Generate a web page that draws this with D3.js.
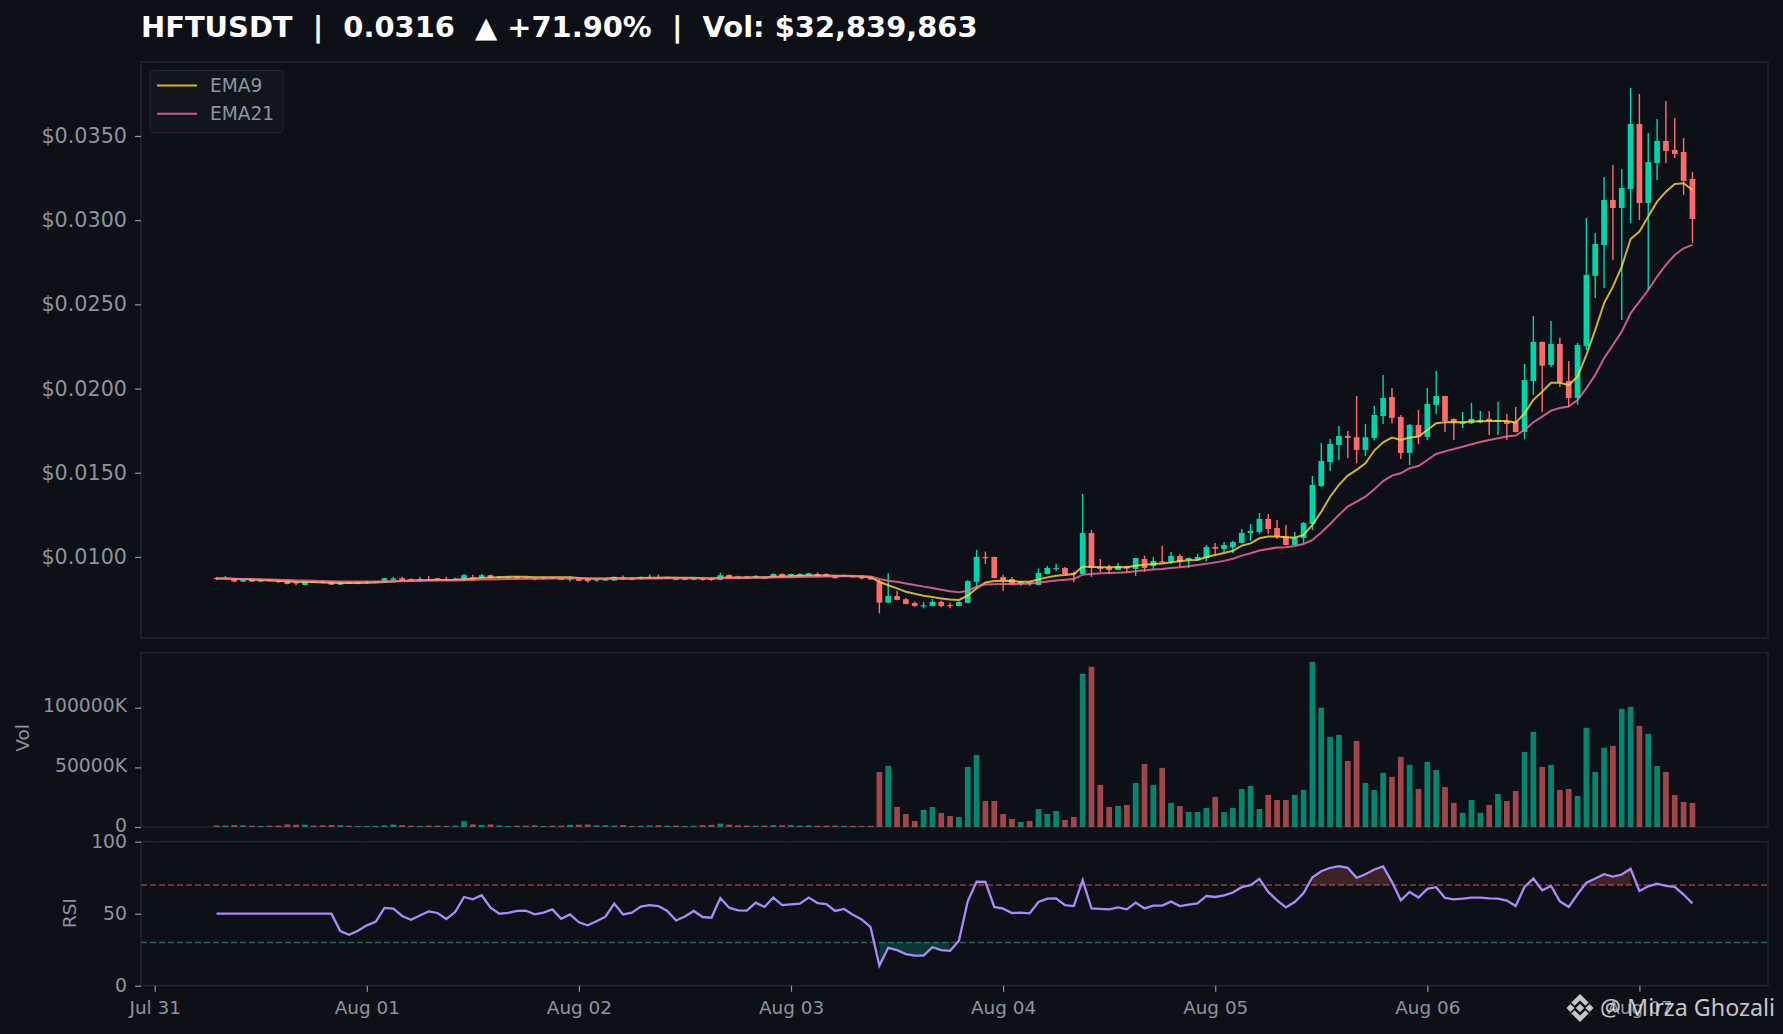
<!DOCTYPE html>
<html>
<head>
<meta charset="utf-8">
<script src="https://cdn.jsdelivr.net/npm/d3@7"></script>
<style>
  html, body { margin: 0; padding: 0; background: #0d1117; overflow: hidden; }
  text { font-family: "DejaVu Sans", sans-serif; }
</style>
</head>
<body>
<div id="chart"></div>
<script>
// hourly candles, first one at Jul 31 07:00
const opens = [
  .00876,.00872,.00874,.00854,.00870,.00854,.00864,.00858,.00858,.00850,
  .00834,.00858,.00856,.00852,.00836,.00852,.00842,.00848,.00852,.00858,
  .00864,.00874,.00868,.00864,.00868,.00874,.00870,.00868,.00870,.00880,
  .00876,.00892,.00878,.00876,.00880,.00878,.00874,.00872,.00878,.00874,
  .00868,.00874,.00874,.00860,.00860,.00860,.00880,.00874,.00868,.00874,
  .00880,.00874,.00878,.00864,.00864,.00874,.00874,.00864,.00894,.00884,
  .00884,.00876,.00880,.00884,.00899,.00888,.00884,.00888,.00899,.00899,
  .00888,.00884,.00889,.00889,.00883,.00853,.00729,.00768,.00749,.00727,
  .00709,.00709,.00733,.00715,.00709,.00727,.00853,.01000,.01000,.00881,
  .00869,.00840,.00851,.00834,.00899,.00931,.00935,.00905,.00899,.01142,
  .00939,.00939,.00923,.00944,.00929,.00988,.00946,.00974,.00970,.01006,
  .00982,.00982,.00994,.01059,.01047,.01057,.01083,.01141,.01149,.01226,
  .01172,.01125,.01071,.01113,.01196,.01422,.01564,.01665,.01719,.01711,
  .01636,.01707,.01837,.01950,.01831,.01618,.01784,.01713,.01903,.01956,
  .01820,.01790,.01794,.01800,.01820,.01806,.01806,.01802,.01742,.02045,
  .02277,.02140,.02265,.02045,.01944,.02253,.02669,.02853,.03120,.03072,
  .03185,.03571,.03102,.03339,.03470,.03417,.03405,.03245
];
const highs = [
  .00880,.00888,.00876,.00870,.00872,.00866,.00868,.00864,.00862,.00856,
  .00856,.00860,.00862,.00854,.00854,.00854,.00854,.00856,.00858,.00876,
  .00882,.00882,.00872,.00882,.00888,.00876,.00882,.00876,.00899,.00894,
  .00899,.00896,.00888,.00884,.00884,.00882,.00878,.00880,.00880,.00876,
  .00884,.00876,.00876,.00872,.00874,.00884,.00890,.00876,.00884,.00896,
  .00896,.00882,.00880,.00876,.00876,.00880,.00880,.00907,.00896,.00888,
  .00888,.00892,.00884,.00903,.00903,.00901,.00903,.00907,.00907,.00903,
  .00890,.00896,.00893,.00891,.00885,.00863,.00903,.00800,.00757,.00735,
  .00733,.00751,.00741,.00729,.00737,.00863,.01043,.01032,.01002,.00895,
  .00881,.00857,.00855,.00931,.00948,.00960,.00940,.00913,.01374,.01160,
  .00988,.00954,.00964,.00948,.00996,.01008,.01000,.01067,.01030,.01018,
  .00996,.01018,.01071,.01083,.01089,.01095,.01166,.01196,.01261,.01255,
  .01220,.01190,.01149,.01208,.01481,.01677,.01701,.01778,.01748,.01956,
  .01790,.01897,.02081,.02004,.01843,.01790,.01873,.02004,.02105,.01958,
  .01822,.01861,.01915,.01867,.01867,.01921,.01849,.01891,.02146,.02431,
  .02279,.02401,.02301,.02164,.02271,.03013,.02924,.03256,.03328,.03304,
  .03785,.03749,.03518,.03601,.03708,.03607,.03488,.03286
];
const lows = [
  .00862,.00870,.00850,.00850,.00852,.00850,.00854,.00846,.00838,.00832,
  .00832,.00846,.00844,.00834,.00834,.00840,.00838,.00840,.00848,.00856,
  .00860,.00858,.00856,.00852,.00858,.00858,.00860,.00864,.00866,.00868,
  .00870,.00870,.00872,.00872,.00870,.00870,.00860,.00868,.00868,.00862,
  .00856,.00856,.00848,.00852,.00858,.00858,.00864,.00862,.00866,.00870,
  .00870,.00870,.00862,.00862,.00862,.00858,.00858,.00862,.00874,.00868,
  .00870,.00874,.00868,.00880,.00880,.00886,.00882,.00886,.00884,.00884,
  .00872,.00882,.00877,.00867,.00865,.00665,.00725,.00743,.00719,.00705,
  .00695,.00707,.00701,.00695,.00707,.00725,.00820,.00958,.00873,.00798,
  .00832,.00828,.00828,.00832,.00897,.00917,.00897,.00851,.00897,.00881,
  .00911,.00899,.00921,.00905,.00887,.00911,.00929,.00968,.00958,.00940,
  .00935,.00980,.00976,.01018,.01030,.01024,.01081,.01095,.01137,.01137,
  .01107,.01069,.01069,.01081,.01160,.01416,.01511,.01576,.01588,.01558,
  .01600,.01691,.01790,.01794,.01582,.01546,.01671,.01695,.01849,.01742,
  .01695,.01766,.01790,.01794,.01725,.01725,.01695,.01740,.01701,.01962,
  .01861,.02128,.02010,.01891,.01903,.02229,.02538,.02597,.02764,.02407,
  .02983,.03001,.02585,.03239,.03339,.03369,.03150,.02865
];
const closes = [
  .00870,.00876,.00854,.00868,.00854,.00864,.00856,.00854,.00840,.00846,
  .00854,.00848,.00850,.00836,.00852,.00842,.00852,.00852,.00856,.00874,
  .00872,.00862,.00864,.00868,.00864,.00862,.00864,.00872,.00892,.00872,
  .00892,.00876,.00884,.00880,.00874,.00874,.00870,.00876,.00872,.00864,
  .00874,.00858,.00856,.00868,.00870,.00882,.00868,.00864,.00882,.00878,
  .00874,.00878,.00864,.00874,.00874,.00864,.00864,.00892,.00876,.00870,
  .00872,.00888,.00872,.00899,.00884,.00899,.00899,.00903,.00888,.00888,
  .00874,.00892,.00879,.00873,.00867,.00729,.00768,.00745,.00721,.00709,
  .00713,.00733,.00709,.00711,.00733,.00857,.01000,.00996,.00875,.00863,
  .00838,.00853,.00838,.00905,.00935,.00935,.00899,.00899,.01142,.00935,
  .00929,.00923,.00946,.00931,.00994,.00935,.00976,.00970,.01006,.00970,
  .00994,.01000,.01059,.01049,.01071,.01089,.01143,.01155,.01226,.01166,
  .01121,.01071,.01113,.01202,.01428,.01570,.01671,.01719,.01707,.01636,
  .01711,.01843,.01944,.01826,.01618,.01784,.01713,.01909,.01956,.01808,
  .01800,.01802,.01820,.01814,.01806,.01814,.01790,.01742,.02051,.02277,
  .02136,.02265,.02039,.01944,.02259,.02675,.02859,.03120,.03072,.03191,
  .03571,.03102,.03345,.03470,.03411,.03393,.03233,.03007
];
const ema9 = [
  .00872,.00873,.00869,.00869,.00866,.00864,.00862,.00859,.00856,.00853,
  .00852,.00851,.00849,.00847,.00846,.00846,.00846,.00847,.00849,.00852,
  .00855,.00858,.00860,.00862,.00863,.00864,.00864,.00865,.00868,.00871,
  .00876,.00878,.00880,.00882,.00882,.00882,.00880,.00880,.00880,.00879,
  .00880,.00876,.00872,.00872,.00873,.00875,.00873,.00874,.00875,.00877,
  .00877,.00878,.00876,.00876,.00876,.00874,.00873,.00877,.00878,.00878,
  .00878,.00880,.00880,.00883,.00884,.00886,.00888,.00890,.00890,.00890,
  .00888,.00889,.00887,.00884,.00880,.00853,.00832,.00814,.00794,.00782,
  .00770,.00762,.00754,.00747,.00745,.00770,.00814,.00849,.00857,.00859,
  .00857,.00853,.00853,.00867,.00879,.00889,.00893,.00899,.00942,.00942,
  .00939,.00939,.00941,.00939,.00948,.00954,.00958,.00962,.00968,.00976,
  .00980,.00982,.01000,.01012,.01024,.01037,.01067,.01081,.01111,.01121,
  .01121,.01117,.01115,.01131,.01190,.01269,.01358,.01428,.01483,.01517,
  .01556,.01632,.01681,.01709,.01695,.01709,.01715,.01754,.01794,.01800,
  .01802,.01800,.01804,.01806,.01808,.01808,.01808,.01798,.01853,.01932,
  .01982,.02035,.02035,.02021,.02071,.02200,.02348,.02506,.02605,.02724,
  .02888,.02932,.03021,.03110,.03169,.03215,.03219,.03179
];
const ema21 = [
  .00872,.00872,.00871,.00870,.00869,.00868,.00866,.00865,.00863,.00861,
  .00860,.00859,.00858,.00856,.00855,.00854,.00854,.00854,.00854,.00855,
  .00856,.00857,.00858,.00859,.00859,.00860,.00861,.00861,.00862,.00864,
  .00866,.00867,.00868,.00869,.00870,.00871,.00871,.00871,.00872,.00872,
  .00872,.00872,.00871,.00871,.00871,.00872,.00871,.00872,.00872,.00873,
  .00873,.00874,.00874,.00874,.00874,.00874,.00873,.00875,.00875,.00875,
  .00876,.00877,.00877,.00878,.00879,.00880,.00881,.00882,.00883,.00884,
  .00884,.00885,.00885,.00885,.00884,.00869,.00859,.00853,.00843,.00834,
  .00824,.00816,.00806,.00796,.00790,.00800,.00824,.00836,.00838,.00840,
  .00840,.00840,.00843,.00847,.00855,.00861,.00865,.00869,.00895,.00899,
  .00903,.00905,.00907,.00909,.00915,.00921,.00925,.00929,.00935,.00939,
  .00945,.00952,.00960,.00968,.00977,.00990,.01008,.01022,.01038,.01048,
  .01056,.01058,.01065,.01077,.01101,.01145,.01196,.01250,.01299,.01329,
  .01358,.01402,.01451,.01483,.01497,.01527,.01540,.01576,.01612,.01627,
  .01641,.01655,.01669,.01683,.01695,.01705,.01715,.01721,.01754,.01800,
  .01833,.01869,.01885,.01893,.01932,.02002,.02081,.02180,.02259,.02338,
  .02447,.02516,.02585,.02665,.02734,.02793,.02833,.02853
];
// thousands
const volumes = [
  1300,1200,1600,1400,1100,900,1100,1200,2200,1900,
  2000,1200,1400,1700,1500,1100,900,800,900,1400,
  2100,1500,1100,900,1200,1100,900,1200,4900,2200,
  1800,2200,1400,900,1100,1200,1400,900,1100,1200,
  1800,1900,2100,1400,1500,1200,1600,900,1100,1400,
  1500,1100,1200,900,1100,1500,1800,2800,2000,1400,
  1200,1100,1200,1600,1400,1500,1200,1400,1100,1200,
  1200,1000,1000,1000,1000,46200,51240,16800,10900,5000,
  14300,16800,11800,9200,8400,50400,60500,21800,21800,10900,
  6700,4200,5000,15100,10900,13400,5900,8400,128500,134400,
  35300,16800,17600,18500,37000,52900,35300,49600,20200,17600,
  12600,12600,16000,25200,12600,16000,31900,34400,15100,26900,
  22700,22700,26900,31100,138600,100000,75600,77300,55400,72200,
  37000,31100,45400,42000,58800,52100,31900,54600,47900,33600,
  20200,11800,22700,11800,18500,27700,21800,30200,63000,79800,
  50400,52100,31100,31900,26000,83200,46200,66400,68000,99100,
  100800,84800,78100,51200,46200,26900,21000,20200
];
const rsi = [
  50,50,50,50,50,50,50,50,50,50,
  50,50,50,50,37.9,35.3,38.1,41.9,44.4,54,
  53.5,48.4,45.8,48.8,51.6,50.5,46.3,51.2,61.6,60,
  62.8,54.2,50,50.5,51.9,52.1,49.5,50.7,53,46.5,
  49.5,44,41.9,44.7,47.9,57,49.5,50.7,54.9,56,
  55.3,51.9,45.3,48.1,51.9,47.7,47.2,60.9,54.2,52.3,
  52.1,57.7,54.7,61.2,56,56.5,57,61.2,57.4,56.7,
  51.9,53.3,49.3,46,40.7,14,26.3,24.7,21.9,20.9,
  20.9,26.7,24.7,24.2,31.2,58.6,72.3,72.1,54.7,53.5,
  50.5,50.7,50.2,58.1,60.5,60.7,56,55.3,73.3,53.7,
  53.3,53,54.4,53,57.7,53.7,55.6,55.6,58.4,55.3,
  56.3,57.2,62.3,61.6,62.8,64.7,68.4,69.8,74.2,65.1,
  59.3,54.4,58.1,64.4,75.3,79.5,81.9,83,81.9,74.9,
  77.4,80.7,82.8,72.1,59.3,65.1,61.2,67.2,68.4,60.9,
  60,60.5,61.2,61.2,60.7,60.5,59.1,55.3,68.6,74.4,
  66.3,69.3,58.6,54.7,63.5,71.6,74.4,77.4,75.8,77.2,
  81.2,65.8,69,70.9,69.3,68.6,63.3,57.2
];

const priceTicks = [0.01, 0.015, 0.02, 0.025, 0.03, 0.035];
const volTicks = [0, 50000, 100000];
const rsiTicks = [0, 50, 100];
const dayTicks = ["2025-07-31", "2025-08-01", "2025-08-02", "2025-08-03", "2025-08-04", "2025-08-05", "2025-08-06", "2025-08-07"];
const titleText = "HFTUSDT  |  0.0316  ▲ +71.90%  |  Vol: $32,839,863";

const width = 1783, height = 1034;
const GREEN = "#00d4aa", RED = "#ff6b6b", GRID = "#21262d", MUTED = "#8b949e";
const left = 141, right = 1768;

const hour = 3600e3;
const start = Date.UTC(2025, 6, 31, 7);
const times = closes.map((_, i) => start + i * hour);
const pad = 8.55 * hour;

const x = d3.scaleUtc()
  .domain([start - pad, times[times.length - 1] + pad])
  .range([left, right]);
const barW = 5.7;

const yPrice = d3.scaleLinear().domain([0.00519, 0.03939]).range([638, 62]);
const yVol = d3.scaleLinear().domain([0, 146200]).range([827, 652.7]);
const yRsi = d3.scaleLinear().domain([0, 100]).range([985.7, 841.7]);

const svg = d3.select("#chart").append("svg")
  .attr("width", width)
  .attr("height", height)
  .style("display", "block");

svg.append("rect").attr("width", width).attr("height", height).attr("fill", "#0d1117");

// panels: background grid, frame, left axis
const panels = [
  { y: yPrice, ticks: priceTicks, fmt: d => "$" + d.toFixed(4), size: "20.7px", dy: "0.32em" },
  { y: yVol, ticks: volTicks, fmt: d => d === 0 ? "0" : d + "K", size: "18.8px", dy: "0.22em" },
  { y: yRsi, ticks: rsiTicks, fmt: d => d, size: "18.8px", dy: "0.32em" }
];
const dates = dayTicks.map(d => new Date(d + "T00:00:00Z"));

panels.forEach(p => {
  const [bottom, top] = p.y.range();
  const g = svg.append("g");

  g.selectAll(".hgrid").data(p.ticks).enter().append("line")
    .attr("x1", left).attr("x2", right)
    .attr("y1", d => p.y(d)).attr("y2", d => p.y(d))
    .attr("stroke", GRID).attr("stroke-opacity", 0.22);

  g.selectAll(".vgrid").data(dates).enter().append("line")
    .attr("x1", d => x(d)).attr("x2", d => x(d))
    .attr("y1", top).attr("y2", bottom)
    .attr("stroke", GRID).attr("stroke-opacity", 0.22);

  g.append("rect")
    .attr("x", left).attr("y", top)
    .attr("width", right - left).attr("height", bottom - top)
    .attr("fill", "none").attr("stroke", GRID).attr("stroke-width", 1.4);

  const axis = svg.append("g")
    .attr("transform", `translate(${left},0)`)
    .call(d3.axisLeft(p.y).tickValues(p.ticks).tickFormat(p.fmt).tickSize(6).tickPadding(8));
  axis.select(".domain").remove();
  axis.selectAll("line").attr("stroke", MUTED).attr("stroke-width", 1.2);
  axis.selectAll("text").attr("fill", MUTED).attr("dy", p.dy).style("font-size", p.size);
});

// bottom time axis
const xAxis = svg.append("g")
  .attr("transform", "translate(0,985.7)")
  .call(d3.axisBottom(x).tickValues(dates).tickFormat(d3.utcFormat("%b %d")).tickSize(6).tickPadding(9));
xAxis.select(".domain").remove();
xAxis.selectAll("line").attr("stroke", MUTED).attr("stroke-width", 1.2);
xAxis.selectAll("text").attr("fill", MUTED).style("font-size", "18.4px");

// candles
const idx = d3.range(closes.length);
const candleColor = i => closes[i] >= opens[i] ? GREEN : RED;

svg.append("g").selectAll("line").data(idx).enter().append("line")
  .attr("x1", i => x(times[i])).attr("x2", i => x(times[i]))
  .attr("y1", i => yPrice(highs[i])).attr("y2", i => yPrice(lows[i]))
  .attr("stroke", candleColor).attr("stroke-width", 1.4);

svg.append("g").selectAll("rect").data(idx).enter().append("rect")
  .attr("x", i => x(times[i]) - barW / 2)
  .attr("width", barW)
  .attr("y", i => yPrice(Math.max(opens[i], closes[i])))
  .attr("height", i => Math.max(1.2, Math.abs(yPrice(opens[i]) - yPrice(closes[i]))))
  .attr("fill", candleColor);

// ema lines
const priceLine = d3.line().x((d, i) => x(times[i])).y(d => yPrice(d));
svg.append("path").attr("d", priceLine(ema9))
  .attr("fill", "none").attr("stroke", "#ffd93d").attr("stroke-opacity", 0.8).attr("stroke-width", 2);
svg.append("path").attr("d", priceLine(ema21))
  .attr("fill", "none").attr("stroke", "#ff6b9d").attr("stroke-opacity", 0.8).attr("stroke-width", 2);

// legend
const legend = svg.append("g").attr("transform", "translate(150,70.5)");
legend.append("rect")
  .attr("width", 133).attr("height", 62).attr("rx", 3)
  .attr("fill", "#11161d").attr("stroke", GRID).attr("stroke-width", 1);
[["EMA9", "#ffd93d"], ["EMA21", "#ff6b9d"]].forEach(([name, c], k) => {
  const ly = 15 + k * 28.2;
  legend.append("line").attr("x1", 7).attr("x2", 47).attr("y1", ly).attr("y2", ly)
    .attr("stroke", c).attr("stroke-opacity", 0.8).attr("stroke-width", 2);
  legend.append("text").attr("x", 60).attr("y", ly).attr("dy", "0.35em")
    .attr("fill", MUTED).style("font-size", "18.6px").text(name);
});

// volume bars
svg.append("g").selectAll("rect").data(idx).enter().append("rect")
  .attr("x", i => x(times[i]) - barW / 2)
  .attr("width", barW)
  .attr("y", i => yVol(volumes[i]))
  .attr("height", i => yVol(0) - yVol(volumes[i]))
  .attr("fill", candleColor).attr("fill-opacity", 0.6);

// rsi bands and fills
[[70, RED], [30, GREEN]].forEach(([level, c]) => {
  svg.append("line")
    .attr("x1", left).attr("x2", right)
    .attr("y1", yRsi(level)).attr("y2", yRsi(level))
    .attr("stroke", c).attr("stroke-opacity", 0.5).attr("stroke-width", 1.5)
    .attr("stroke-dasharray", "6,3");
});

const overArea = d3.area()
  .defined(d => d > 70)
  .x((d, i) => x(times[i]))
  .y0(yRsi(70)).y1(d => yRsi(d));
const underArea = d3.area()
  .defined(d => d < 30)
  .x((d, i) => x(times[i]))
  .y0(yRsi(30)).y1(d => yRsi(d));
svg.append("path").attr("d", overArea(rsi)).attr("fill", RED).attr("fill-opacity", 0.2);
svg.append("path").attr("d", underArea(rsi)).attr("fill", GREEN).attr("fill-opacity", 0.2);

svg.append("path")
  .attr("d", d3.line().x((d, i) => x(times[i])).y(d => yRsi(d))(rsi))
  .attr("fill", "none").attr("stroke", "#a78bfa").attr("stroke-width", 2.3);

// axis names
svg.append("text")
  .attr("transform", "translate(23,738) rotate(-90)")
  .attr("text-anchor", "middle").attr("dy", "0.35em")
  .attr("fill", MUTED).style("font-size", "18.4px").text("Vol");
svg.append("text")
  .attr("transform", "translate(70,913) rotate(-90)")
  .attr("text-anchor", "middle").attr("dy", "0.35em")
  .attr("fill", MUTED).style("font-size", "18.4px").text("RSI");

// title
svg.append("text")
  .attr("x", 141).attr("y", 37)
  .attr("fill", "#ffffff").style("font-size", "28.9px").style("font-weight", "bold")
  .style("white-space", "pre").text(titleText);

// watermark, binance mark + handle
const mark = svg.append("g").attr("transform", "translate(1580,1008)").attr("fill", "rgba(230,230,230,0.85)");
[
  "M0,-4.2L4.2,0L0,4.2L-4.2,0Z",
  "M-13.6,0L-9.5,-4.1L-5.4,0L-9.5,4.1Z",
  "M13.6,0L9.5,-4.1L5.4,0L9.5,4.1Z",
  "M0,-14L8.6,-5.4L5.4,-2.2L0,-7.6L-5.4,-2.2L-8.6,-5.4Z",
  "M0,14L8.6,5.4L5.4,2.2L0,7.6L-5.4,2.2L-8.6,5.4Z"
].forEach(d => mark.append("path").attr("d", d));
svg.append("text")
  .attr("x", 1600).attr("y", 1008).attr("dy", "0.36em")
  .attr("fill", "rgba(230,230,230,0.85)").style("font-family", "'Noto Sans', sans-serif")
  .style("font-size", "23.3px").text("@ Mirza Ghozali");
</script>
</body>
</html>
